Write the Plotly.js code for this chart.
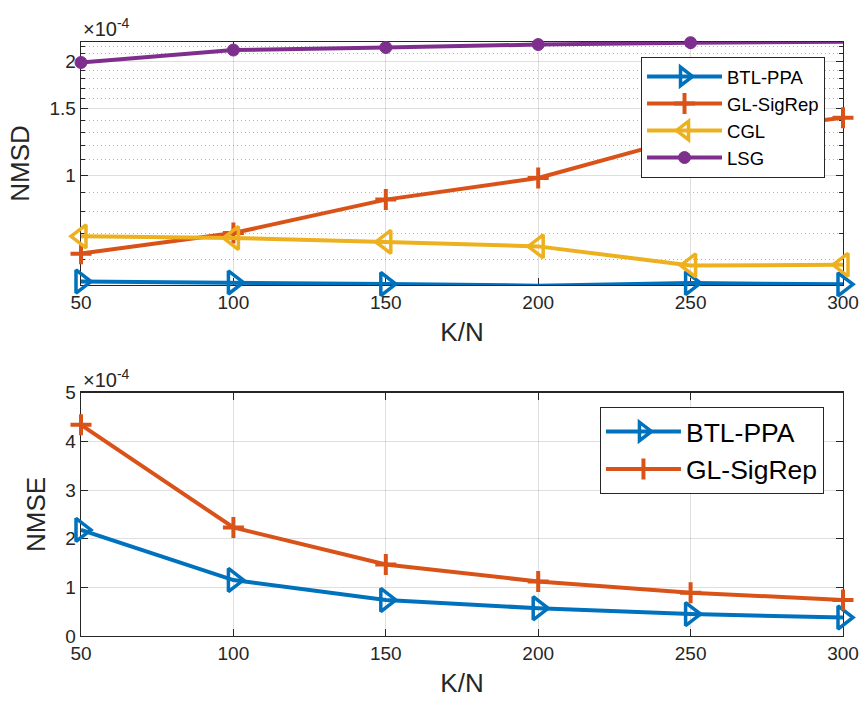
<!DOCTYPE html>
<html>
<head>
<meta charset="utf-8">
<script src="https://cdn.plot.ly/plotly-3.0.1.min.js"></script>
<style>html,body{margin:0;padding:0;background:#fff;}#plot{width:861px;height:701px;}</style>
</head>
<body>
<div id="plot"></div>
<script>
// K/N values
var kn = [50, 100, 150, 200, 250, 300];
// Top panel: NMSD (x1e-4)
var nmsdBTL = [0.523, 0.520, 0.515, 0.510, 0.518, 0.514];
var nmsdGL  = [0.620, 0.703, 0.862, 0.984, 1.27, 1.42];
var nmsdCGL = [0.689, 0.682, 0.666, 0.648, 0.577, 0.579];
var nmsdLSG = [1.99, 2.147, 2.18, 2.22, 2.246, 2.26];
// Bottom panel: NMSE (x1e-4)
var nmseBTL = [2.18, 1.15, 0.74, 0.57, 0.45, 0.38];
var nmseGL  = [4.34, 2.23, 1.47, 1.12, 0.89, 0.74];

var topTicks = [1, 1.5, 2];
var topTickText = ['1', '1.5', '2'];
var topMinor = [0.6, 0.7, 0.8, 0.9, 1.1, 1.2, 1.3, 1.4, 1.6, 1.7, 1.8, 1.9, 2.1, 2.2];
var xTicks = [50, 100, 150, 200, 250, 300];

var C = {blue:'#0072BD', red:'#D95319', yellow:'#EDB120', purple:'#7E2F8E'};
var FONT = 'Liberation Sans, Arial, Helvetica, sans-serif';
var AX = '#262626';

function tr(x, y, name, color, sym, size, lw, xa, ya, leg) {
  return {
    x: x, y: y, name: name, type: 'scatter', mode: 'lines+markers',
    xaxis: xa, yaxis: ya, legend: leg, cliponaxis: false,
    line: {color: color, width: 4},
    marker: {symbol: sym, size: size, color: color,
             line: {color: color, width: lw}}
  };
}

var data = [
  tr(kn, nmsdBTL, 'BTL-PPA', C.blue, 'triangle-right-open', 20, 3.5, 'x', 'y', 'legend'),
  tr(kn, nmsdGL, 'GL-SigRep', C.red, 'cross-thin-open', 15, 4, 'x', 'y', 'legend'),
  tr(kn, nmsdCGL, 'CGL', C.yellow, 'triangle-left-open', 20, 3.5, 'x', 'y', 'legend'),
  tr(kn, nmsdLSG, 'LSG', C.purple, 'circle', 12, 1, 'x', 'y', 'legend'),
  tr(kn, nmseBTL, 'BTL-PPA', C.blue, 'triangle-right-open', 20, 3.5, 'x2', 'y2', 'legend2'),
  tr(kn, nmseGL, 'GL-SigRep', C.red, 'cross-thin-open', 15, 4, 'x2', 'y2', 'legend2')
];

function xaxis(anchor) {
  return {
    anchor: anchor, range: [50, 300], tickmode: 'array', tickvals: xTicks,
    ticks: 'inside', ticklen: 7, tickcolor: AX, tickwidth: 1,
    showline: true, linecolor: AX, linewidth: 1.3, mirror: 'ticks',
    showgrid: true, gridcolor: 'rgba(38,38,38,0.15)', gridwidth: 1,
    zeroline: false,
    tickfont: {family: FONT, size: 19, color: AX},
    title: {text: 'K/N', font: {family: FONT, size: 26, color: AX}, standoff: 10},
    layer: 'below traces'
  };
}

var layout = {
  width: 861, height: 701,
  margin: {l: 81, r: 18, t: 42, b: 65},
  paper_bgcolor: '#fff', plot_bgcolor: '#fff',
  showlegend: true,
  xaxis: xaxis('y'),
  xaxis2: xaxis('y2'),
  yaxis: {
    domain: [0.5909, 1], anchor: 'x', type: 'log',
    range: [Math.log10(0.512), Math.log10(2.255)],
    tickmode: 'array', tickvals: topTicks, ticktext: topTickText,
    ticks: 'inside', ticklen: 7, tickcolor: AX,
    showline: true, linecolor: AX, linewidth: 1.3, mirror: 'ticks',
    showgrid: true, gridcolor: 'rgba(38,38,38,0.15)', zeroline: false,
    minor: {tickmode: 'array', tickvals: topMinor, ticks: 'inside', ticklen: 4,
            tickcolor: AX, showgrid: true, gridcolor: 'rgba(38,38,38,0.35)',
            griddash: '1px,3px', gridwidth: 1},
    tickfont: {family: FONT, size: 19, color: AX},
    title: {text: 'NMSD', font: {family: FONT, size: 26, color: AX}, standoff: 12},
    layer: 'below traces'
  },
  yaxis2: {
    domain: [0, 0.4096], anchor: 'x2', range: [0, 5], dtick: 1, tick0: 0,
    ticks: 'inside', ticklen: 7, tickcolor: AX,
    showline: true, linecolor: AX, linewidth: 1.3, mirror: 'ticks',
    showgrid: true, gridcolor: 'rgba(38,38,38,0.15)', zeroline: false,
    tickfont: {family: FONT, size: 19, color: AX},
    title: {text: 'NMSE', font: {family: FONT, size: 26, color: AX}, standoff: 12},
    layer: 'below traces'
  },
  legend: {
    x: 0.9764, xanchor: 'right', y: 0.975, yanchor: 'top',
    bgcolor: '#fff', bordercolor: AX, borderwidth: 1,
    font: {family: FONT, size: 18.5, color: '#000'},
    itemwidth: 75, tracegroupgap: 0
  },
  legend2: {
    x: 0.975, xanchor: 'right', y: 0.386, yanchor: 'top',
    bgcolor: '#fff', bordercolor: AX, borderwidth: 1,
    font: {family: FONT, size: 26.5, color: '#000'},
    itemwidth: 75, tracegroupgap: 0
  },
  annotations: [
    {xref: 'paper', yref: 'paper', x: 0, y: 1, xanchor: 'left', yanchor: 'bottom',
     text: '×10<sup>-4</sup>', showarrow: false, font: {family: FONT, size: 20, color: AX}},
    {xref: 'paper', yref: 'paper', x: 0, y: 0.4096, xanchor: 'left', yanchor: 'bottom',
     text: '×10<sup>-4</sup>', showarrow: false, font: {family: FONT, size: 20, color: AX}}
  ]
};

Plotly.newPlot('plot', data, layout, {displayModeBar: false, staticPlot: true});
</script>
</body>
</html>
